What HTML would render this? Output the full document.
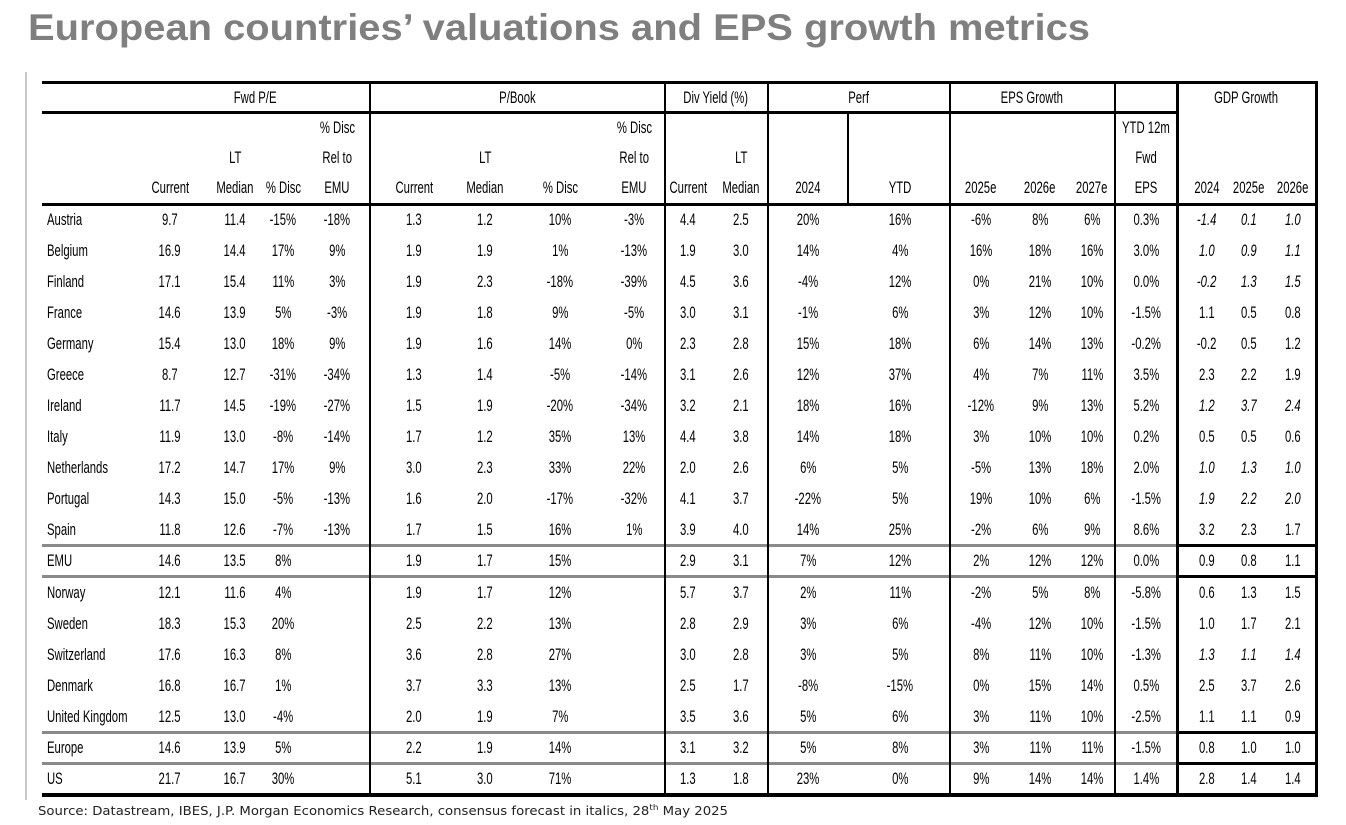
<!DOCTYPE html>
<html><head><meta charset="utf-8">
<style>
html,body{margin:0;padding:0;background:#fff;}
#root{position:relative;width:1346px;height:825px;overflow:hidden;font-family:"Liberation Sans Narrow","Liberation Sans",sans-serif;color:#000;}
.t{position:absolute;white-space:nowrap;font-size:17px;line-height:18px;transform-origin:center center;}
.l{position:absolute;}
#title{position:absolute;left:28px;top:7px;font-family:"Liberation Sans",sans-serif;font-weight:bold;font-size:37px;color:#7f7f7f;white-space:nowrap;transform-origin:left center;}
#src{position:absolute;left:38px;top:803px;font-family:"DejaVu Sans",sans-serif;font-size:12px;color:#222;white-space:nowrap;transform-origin:left center;}
</style></head><body>
<div id="root">
<div id="title">European countries’ valuations and EPS growth metrics</div>
<div id="src">Source: Datastream, IBES, J.P. Morgan Economics Research, consensus forecast in italics, 28<sup style="font-size:8px">th</sup> May 2025</div>
</div>
<script>
const countries=["Austria","Belgium","Finland","France","Germany","Greece","Ireland","Italy","Netherlands","Portugal","Spain","EMU","Norway","Sweden","Switzerland","Denmark","United Kingdom","Europe","US"];
const peCurrent=["9.7","16.9","17.1","14.6","15.4","8.7","11.7","11.9","17.2","14.3","11.8","14.6","12.1","18.3","17.6","16.8","12.5","14.6","21.7"];
const peMedian=["11.4","14.4","15.4","13.9","13.0","12.7","14.5","13.0","14.7","15.0","12.6","13.5","11.6","15.3","16.3","16.7","13.0","13.9","16.7"];
const peDisc=["-15%","17%","11%","5%","18%","-31%","-19%","-8%","17%","-5%","-7%","8%","4%","20%","8%","1%","-4%","5%","30%"];
const peRel=["-18%","9%","3%","-3%","9%","-34%","-27%","-14%","9%","-13%","-13%","","","","","","","",""];
const pbCurrent=["1.3","1.9","1.9","1.9","1.9","1.3","1.5","1.7","3.0","1.6","1.7","1.9","1.9","2.5","3.6","3.7","2.0","2.2","5.1"];
const pbMedian=["1.2","1.9","2.3","1.8","1.6","1.4","1.9","1.2","2.3","2.0","1.5","1.7","1.7","2.2","2.8","3.3","1.9","1.9","3.0"];
const pbDisc=["10%","1%","-18%","9%","14%","-5%","-20%","35%","33%","-17%","16%","15%","12%","13%","27%","13%","7%","14%","71%"];
const pbRel=["-3%","-13%","-39%","-5%","0%","-14%","-34%","13%","22%","-32%","1%","","","","","","","",""];
const dyCurrent=["4.4","1.9","4.5","3.0","2.3","3.1","3.2","4.4","2.0","4.1","3.9","2.9","5.7","2.8","3.0","2.5","3.5","3.1","1.3"];
const dyMedian=["2.5","3.0","3.6","3.1","2.8","2.6","2.1","3.8","2.6","3.7","4.0","3.1","3.7","2.9","2.8","1.7","3.6","3.2","1.8"];
const perf2024=["20%","14%","-4%","-1%","15%","12%","18%","14%","6%","-22%","14%","7%","2%","3%","3%","-8%","5%","5%","23%"];
const perfYTD=["16%","4%","12%","6%","18%","37%","16%","18%","5%","5%","25%","12%","11%","6%","5%","-15%","6%","8%","0%"];
const eps25=["-6%","16%","0%","3%","6%","4%","-12%","3%","-5%","19%","-2%","2%","-2%","-4%","8%","0%","3%","3%","9%"];
const eps26=["8%","18%","21%","12%","14%","7%","9%","10%","13%","10%","6%","12%","5%","12%","11%","15%","11%","11%","14%"];
const eps27=["6%","16%","10%","10%","13%","11%","13%","10%","18%","6%","9%","12%","8%","10%","10%","14%","10%","11%","14%"];
const ytdEps=["0.3%","3.0%","0.0%","-1.5%","-0.2%","3.5%","5.2%","0.2%","2.0%","-1.5%","8.6%","0.0%","-5.8%","-1.5%","-1.3%","0.5%","-2.5%","-1.5%","1.4%"];
const gdp24=["-1.4","1.0","-0.2","1.1","-0.2","2.3","1.2","0.5","1.0","1.9","3.2","0.9","0.6","1.0","1.3","2.5","1.1","0.8","2.8"];
const gdp25=["0.1","0.9","1.3","0.5","0.5","2.2","3.7","0.5","1.3","2.2","2.3","0.8","1.3","1.7","1.1","3.7","1.1","1.0","1.4"];
const gdp26=["1.0","1.1","1.5","0.8","1.2","1.9","2.4","0.6","1.0","2.0","1.7","1.1","1.5","2.1","1.4","2.6","0.9","1.0","1.4"];
const gdpItalic=[1,1,1,0,0,0,1,0,1,1,0,0,0,0,1,0,0,0,0];

const root=document.getElementById('root');
const rowY=[220,251,282,313,344,375,406,437,468,499,530,561,593,624,655,686,717,748,779];
const cells=[];
function txt(s,x,y,align,extra){
  const d=document.createElement('div');
  d.className='t';
  d.textContent=s;
  
  
  d.style.top=(y-9)+'px';
  if(extra) d.style.fontStyle=extra;
  root.appendChild(d);
  cells.push({d,x,align});
  return d;
}
function line(x,y,w,h,c){
  const d=document.createElement('div');
  d.className='l';
  
  
  d.style.left=x+'px';d.style.top=y+'px';d.style.width=w+'px';d.style.height=h+'px';d.style.background=c;
  root.appendChild(d);
}
[["Fwd P/E",255],["P/Book",517],["Div Yield (%)",716],["Perf",859],["EPS Growth",1032],["GDP Growth",1246]].forEach(h=>txt(h[0],h[1],98,'c'));
const hdr=[[170,["","","Current"]],[235,["","LT","Median"]],[283,["","","% Disc"]],[337,["% Disc","Rel to","EMU"]],
[414,["","","Current"]],[485,["","LT","Median"]],[560,["","","% Disc"]],[634,["% Disc","Rel to","EMU"]],
[688,["","","Current"]],[741,["","LT","Median"]],[808,["","","2024"]],[900,["","","YTD"]],
[981,["","","2025e"]],[1040,["","","2026e"]],[1092,["","","2027e"]],[1146,["YTD 12m","Fwd","EPS"]],
[1207,["","","2024"]],[1249,["","","2025e"]],[1293,["","","2026e"]]];
hdr.forEach(h=>h[1].forEach((s,i)=>{if(s)txt(s,h[0],128+30*i,'c');}));
const cols=[[170,peCurrent],[235,peMedian],[283,peDisc],[337,peRel],[414,pbCurrent],[485,pbMedian],[560,pbDisc],[634,pbRel],
[688,dyCurrent],[741,dyMedian],[808,perf2024],[900,perfYTD],[981,eps25],[1040,eps26],[1092,eps27],[1146,ytdEps]];
countries.forEach((c,i)=>{
  txt(c,47,rowY[i],'l');
  cols.forEach(col=>{if(col[1][i])txt(col[1][i],col[0],rowY[i],'c');});
  const it=gdpItalic[i]?'italic':'';
  txt(gdp24[i],1207,rowY[i],'c',it);txt(gdp25[i],1249,rowY[i],'c',it);txt(gdp26[i],1293,rowY[i],'c',it);
});
line(25,72,2,728,'#c8c8c8');
line(42,81,1276,3,'#000');
line(42,111,1135,3,'#000');
line(42,203,1276,3,'#000');
[545,576,732,763].forEach(y=>{line(42,y-1,1135,3,'#8a8a8a');line(1177,y-1,140,3,'#000');});
line(42,793,1276,4,'#000');
[370,665,768,950,1115].forEach(x=>line(x-1,82,2,712,'#000'));
line(847,112,2,92,'#000');
line(1176,82,3,712,'#000');
line(1315,82,3,712,'#000');
const probe=document.createElement('span');probe.className='t';probe.textContent='Netherlands';root.appendChild(probe);
const k=Math.min(1,61/probe.getBoundingClientRect().width);root.removeChild(probe);
cells.forEach(o=>{
  const w=o.d.getBoundingClientRect().width;
  if(o.align==='l'){o.d.style.left=o.x+'px';o.d.style.transformOrigin='left center';}
  else o.d.style.left=(o.x-w/2)+'px';
  o.d.style.transform='scaleX('+k+')';
});
const t=document.getElementById('title');t.style.transform='scaleX('+(1062/t.getBoundingClientRect().width)+')';
const s=document.getElementById('src');s.style.transform='scaleX('+(690/s.getBoundingClientRect().width)+')';
</script>
</body></html>
